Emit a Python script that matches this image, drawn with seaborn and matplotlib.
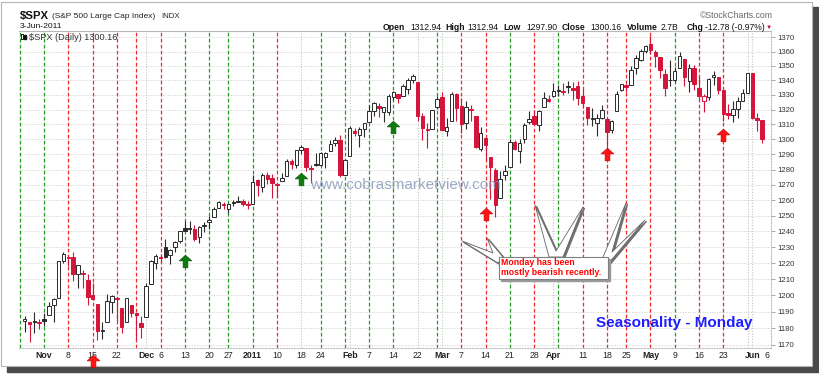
import numpy as np
import pandas as pd
import matplotlib
matplotlib.use("Agg")
import matplotlib.pyplot as plt
import seaborn as sns
from matplotlib.path import Path
from matplotlib.patches import Rectangle, Polygon
from matplotlib.transforms import Affine2D
from matplotlib.ticker import FixedLocator, NullLocator, NullFormatter

# NYSE holidays inside the window
holidays = ["2010-11-25", "2010-12-24", "2011-01-17", "2011-02-21",
            "2011-04-22", "2011-05-30"]
# Oct 25 (only its weekly line shows) .. Jun 6 (only its tick label shows)
days = pd.bdate_range("2010-10-25", "2011-06-06", freq="C", holidays=holidays)

# daily bars Oct 26 2010 .. Jun 3 2011, one row per week
opens = [
    1184.0, 1183.8, 1184.5, 1183.9,
    1185.7, 1187.9, 1193.8, 1198.3, 1221.2,
    1223.2, 1223.6, 1213.1, 1213.0, 1209.5,
    1200.4, 1194.8, 1178.3, 1183.8, 1196.1,
    1198.1, 1192.5, 1183.7, 1194.2,
    1189.1, 1182.9, 1186.6, 1206.8, 1219.9,
    1223.9, 1230.1, 1225.0, 1230.1, 1233.9,
    1242.5, 1241.8, 1241.6, 1236.3, 1243.6,
    1245.8, 1249.4, 1254.9, 1257.5,
    1254.7, 1259.1, 1258.8, 1259.4, 1256.8,
    1257.6, 1272.9, 1268.8, 1276.3, 1274.4,
    1270.8, 1272.6, 1275.7, 1285.8, 1282.9,
    1293.2, 1294.5, 1280.9, 1283.6,
    1283.3, 1288.2, 1292.0, 1297.5, 1299.6,
    1276.5, 1289.1, 1305.9, 1302.8, 1307.0,
    1311.9, 1318.8, 1322.5, 1318.1, 1318.7,
    1328.7, 1330.4, 1329.5, 1334.4, 1340.4,
    1338.9, 1315.4, 1307.1, 1307.3,
    1321.6, 1328.6, 1305.9, 1312.4, 1330.7,
    1322.7, 1311.1, 1319.9, 1315.7, 1293.4,
    1301.2, 1288.5, 1279.5, 1261.6, 1276.7,
    1281.7, 1298.3, 1292.2, 1300.6, 1311.8,
    1315.5, 1309.4, 1321.9, 1327.4, 1329.5,
    1333.6, 1332.0, 1335.9, 1334.8, 1336.2,
    1329.0, 1322.0, 1314.0, 1311.1, 1314.5,
    1313.4, 1306.0, 1319.1, 1333.2,
    1337.1, 1336.8, 1348.4, 1353.9, 1360.1,
    1365.2, 1359.8, 1355.9, 1344.2, 1340.2,
    1340.2, 1348.3, 1354.5, 1339.4, 1348.7,
    1334.8, 1326.1, 1328.5, 1342.4, 1342.0,
    1333.1, 1317.7, 1316.4, 1320.6, 1325.7,
    1331.1, 1345.2, 1314.6, 1312.94,
]
highs = [
    1187.1, 1183.8, 1189.5, 1185.5,
    1189.0, 1195.9, 1198.3, 1221.3, 1227.1,
    1224.6, 1226.8, 1218.8, 1215.5, 1213.0,
    1207.4, 1194.8, 1183.6, 1200.7, 1200.0,
    1198.9, 1192.5, 1198.6, 1194.2,
    1189.1, 1187.4, 1207.6, 1221.9, 1225.6,
    1225.8, 1235.1, 1228.9, 1233.8, 1240.4,
    1246.7, 1246.6, 1244.3, 1243.8, 1245.8,
    1250.2, 1255.8, 1259.4, 1258.6,
    1258.4, 1259.9, 1262.6, 1261.1, 1259.3,
    1276.2, 1274.1, 1277.6, 1278.2, 1276.8,
    1271.5, 1277.6, 1286.9, 1287.0, 1293.2,
    1296.1, 1294.6, 1283.3, 1291.2,
    1291.9, 1291.3, 1299.7, 1301.6, 1302.7,
    1287.2, 1308.9, 1307.6, 1308.6, 1311.0,
    1322.9, 1324.9, 1324.5, 1322.0, 1330.8,
    1333.0, 1330.4, 1337.6, 1341.5, 1344.1,
    1338.9, 1317.9, 1310.9, 1320.0,
    1329.4, 1332.1, 1314.4, 1332.3, 1331.1,
    1327.7, 1325.7, 1323.2, 1315.7, 1308.4,
    1301.2, 1288.5, 1280.9, 1278.9, 1282.9,
    1300.6, 1299.4, 1300.5, 1311.3, 1319.2,
    1319.7, 1319.5, 1331.7, 1329.8, 1337.9,
    1336.7, 1338.2, 1339.4, 1338.8, 1339.5,
    1333.8, 1322.0, 1321.4, 1316.8, 1322.9,
    1313.4, 1312.7, 1332.7, 1337.5,
    1337.6, 1349.6, 1357.5, 1361.7, 1364.6,
    1370.6, 1360.8, 1355.9, 1348.0, 1354.4,
    1349.4, 1359.4, 1354.5, 1351.1, 1350.5,
    1343.3, 1330.4, 1341.8, 1346.8, 1342.0,
    1333.1, 1323.7, 1325.9, 1328.5, 1334.0,
    1345.2, 1345.2, 1318.0, 1312.94,
]
lows = [
    1177.7, 1171.7, 1177.1, 1179.7,
    1181.0, 1187.9, 1183.6, 1198.3, 1220.3,
    1218.5, 1208.9, 1204.3, 1204.5, 1194.1,
    1197.2, 1173.0, 1173.3, 1183.8, 1189.4,
    1184.3, 1176.9, 1183.7, 1186.9,
    1173.6, 1174.1, 1186.6, 1206.8, 1216.6,
    1220.7, 1223.3, 1219.5, 1226.9, 1232.6,
    1240.3, 1238.2, 1234.0, 1232.9, 1239.9,
    1241.5, 1249.4, 1254.9, 1254.1,
    1251.5, 1256.2, 1258.8, 1256.3, 1254.2,
    1257.6, 1262.7, 1265.4, 1270.4, 1261.7,
    1262.2, 1272.6, 1275.7, 1280.5, 1280.9,
    1290.2, 1278.9, 1271.3, 1282.1,
    1282.5, 1281.1, 1292.0, 1295.5, 1275.1,
    1276.5, 1289.1, 1302.6, 1294.8, 1301.7,
    1311.9, 1316.0, 1314.9, 1311.6, 1316.1,
    1326.9, 1324.6, 1329.5, 1331.0, 1338.1,
    1312.3, 1299.6, 1294.3, 1307.3,
    1320.6, 1306.1, 1302.6, 1312.4, 1312.6,
    1304.0, 1306.9, 1312.3, 1294.2, 1292.0,
    1286.4, 1261.1, 1249.1, 1261.6, 1273.3,
    1281.7, 1292.7, 1284.4, 1297.7, 1310.2,
    1310.2, 1305.3, 1321.9, 1325.0, 1328.9,
    1329.1, 1330.0, 1331.1, 1326.6, 1322.9,
    1321.1, 1309.5, 1309.2, 1302.4, 1313.7,
    1294.7, 1304.0, 1319.1, 1332.5,
    1331.7, 1336.8, 1344.3, 1353.6, 1358.7,
    1358.6, 1349.5, 1341.5, 1329.2, 1336.4,
    1338.6, 1348.3, 1336.4, 1332.0, 1333.4,
    1327.3, 1318.5, 1326.6, 1336.9, 1330.7,
    1312.6, 1313.9, 1311.8, 1314.4, 1325.7,
    1331.1, 1313.7, 1305.6, 1297.90,
]
closes = [
    1185.64, 1182.45, 1183.78, 1183.26,
    1184.38, 1193.57, 1197.96, 1221.06, 1225.85,
    1223.25, 1213.40, 1218.71, 1213.54, 1199.21,
    1197.75, 1178.34, 1178.59, 1196.69, 1199.73,
    1197.84, 1180.73, 1198.35, 1189.40,
    1187.76, 1180.55, 1206.07, 1221.53, 1224.71,
    1223.12, 1223.75, 1228.28, 1233.00, 1240.40,
    1240.46, 1241.59, 1235.23, 1242.87, 1243.91,
    1247.08, 1254.60, 1258.84, 1256.77,
    1257.54, 1258.51, 1259.78, 1257.88, 1257.64,
    1271.87, 1270.20, 1276.56, 1273.85, 1271.50,
    1269.75, 1274.48, 1285.96, 1283.76, 1293.24,
    1295.02, 1281.92, 1280.26, 1283.35,
    1290.84, 1291.18, 1296.63, 1299.54, 1276.34,
    1286.12, 1307.59, 1304.03, 1307.10, 1310.87,
    1319.05, 1324.57, 1320.88, 1321.87, 1329.15,
    1332.32, 1328.01, 1336.32, 1340.43, 1343.01,
    1315.44, 1307.40, 1306.10, 1319.88,
    1327.22, 1306.33, 1308.44, 1330.97, 1321.15,
    1310.13, 1321.82, 1320.02, 1295.11, 1304.28,
    1296.39, 1281.87, 1256.88, 1273.72, 1279.21,
    1298.38, 1293.77, 1297.54, 1309.66, 1313.80,
    1310.19, 1319.44, 1328.26, 1325.83, 1332.41,
    1332.87, 1332.63, 1335.54, 1333.51, 1328.17,
    1324.46, 1314.16, 1314.41, 1314.52, 1319.68,
    1305.14, 1312.62, 1330.36, 1337.38,
    1335.25, 1347.24, 1355.66, 1360.48, 1363.61,
    1361.22, 1356.62, 1347.32, 1335.10, 1340.20,
    1346.29, 1357.16, 1342.08, 1348.65, 1337.77,
    1329.47, 1328.98, 1340.68, 1343.60, 1333.27,
    1317.37, 1316.28, 1320.47, 1325.69, 1331.10,
    1345.20, 1314.55, 1312.94, 1300.16,
]
assert len(opens) == len(highs) == len(lows) == len(closes) == len(days) - 2

volume_text = "2.7B"
y_ticks = list(range(1170, 1371, 10))

# block arrows (date, price at arrow centre)
green_arrows = [("2010-12-13", 1221.4), ("2011-01-18", 1273.6), ("2011-02-14", 1308.0)]
red_arrows = [("2010-11-15", 1160.0), ("2011-03-14", 1251.2),
              ("2011-04-18", 1290.3), ("2011-05-23", 1303.0)]

RED = "#d5143a"
BLACK = "#2a2a2a"
GREEN_LINE = "#239b23"
RED_LINE = "#ee2a2a"
GRAY_LINE = "#c4c4c4"

sns.set_theme(style="white")
plt.rcParams["font.family"] = ["Liberation Sans", "DejaVu Sans"]

fig = plt.figure(figsize=(8.2, 3.74), dpi=100)
# reference-pixel coordinates (origin top-left) for the page furniture
px = Affine2D().scale(1 / 820, -1 / 374).translate(0, 1) + fig.transFigure

# outer frame with drop shadow
fig.add_artist(Rectangle((7, 7), 811, 365, transform=px, color="#4a4a4a", zorder=-3))
fig.add_artist(Rectangle((1.5, 1.5), 810.5, 364.5, transform=px, facecolor="white",
                         edgecolor="#b5b5b5", lw=0.8, zorder=-2))

ax = fig.add_axes([19.4 / 820, 26 / 374, 751.6 / 820, 317 / 374])
ax.set_facecolor("white")

o = np.array(opens)
h = np.array(highs)
l = np.array(lows)
c = np.array(closes)
pos = np.arange(1, len(c) + 1)          # index into `days`
prev = np.r_[c[0], c[:-1]]
up = c >= prev
edge = np.where(up, BLACK, RED)
face = np.where(c > o, "white", edge)

ax.set_yscale("log")
ax.vlines(pos, l, h, colors=edge, lw=0.8, zorder=3)
ax.bar(pos, np.maximum(np.abs(c - o), 0.35), bottom=np.minimum(o, c), width=0.72,
       color=face, edgecolor=edge, linewidth=0.7, zorder=4)

# weekly lines: Monday up = green, Monday down = red, others gray dotted
new_week = [0] + [i for i in range(1, len(days)) if days[i].weekday() < days[i - 1].weekday()]
month_starts = [i for i in range(1, len(days)) if days[i].month != days[i - 1].month]
for i in new_week:
    if i > len(c):
        continue
    if days[i].weekday() != 0:
        ax.axvline(i, color=GRAY_LINE, lw=0.8, ls=(0, (1, 1.5)), zorder=1)
        continue
    k = i - 1
    rising = True if k < 1 else c[k] >= c[k - 1]
    ax.axvline(i, color=GREEN_LINE if rising else RED_LINE, lw=0.9,
               ls=(0, (3, 1.8)), zorder=1)
for i in month_starts:
    if i not in new_week:
        ax.axvline(i, color=GRAY_LINE, lw=0.8, ls=(0, (1, 1.5)), zorder=1)

# tick labels: month names at month starts, day numbers at week starts
ticks = []
for i in month_starts:
    ticks.append((i, "2011" if days[i].month == 1 else days[i].strftime("%b"), True))
for i in new_week[1:]:
    if not any(abs(m - i) <= 2 for m in month_starts):
        ticks.append((i, str(days[i].day), False))
ticks.sort()
ax.set_xticks([t[0] for t in ticks], [t[1] for t in ticks])
for lab, t in zip(ax.get_xticklabels(), ticks):
    if t[2]:
        lab.set_fontweight("bold")
ax.tick_params(axis="x", length=0, labelsize=6.3, pad=1.8, labelcolor="#222")
ax.set_xlim(-0.09, 154.84)

ax.set_ylim(1168.0, 1374.4)
ax.yaxis.tick_right()
ax.yaxis.set_major_locator(FixedLocator(y_ticks))
ax.yaxis.set_minor_locator(NullLocator())
ax.yaxis.set_minor_formatter(NullFormatter())
ax.set_yticklabels([str(v) for v in y_ticks])
ax.tick_params(axis="y", length=3, width=0.6, color="#999", labelsize=5.6,
               labelcolor="#333", pad=1.5, direction="out", right=True, left=False)
ax.grid(axis="y", color="#d0d0d0", lw=0.7, ls=(0, (1, 1.5)), zorder=0)

ax.spines["left"].set_visible(False)
ax.spines["top"].set_color("#b8b8b8")
ax.spines["top"].set_linewidth(0.8)
for side in ["bottom", "right"]:
    ax.spines[side].set_color("#c0c0c0")
    ax.spines[side].set_linewidth(0.8)
    ax.spines[side].set_linestyle((0, (1, 1.5)))

# arrows
arrow = Path([(-0.5, 0.05), (0, 0.5), (0.5, 0.05), (0.19, 0.05), (0.19, -0.5),
              (-0.19, -0.5), (-0.19, 0.05), (-0.5, 0.05)], closed=True)
gx = [days.get_loc(pd.Timestamp(d)) for d, _ in green_arrows]
ax.plot(gx, [p for _, p in green_arrows], ls="none", marker=arrow, markersize=9,
        color="#0c7a0c", mec="#0a5a0a", mew=0.5, zorder=6, clip_on=False)
rx = [days.get_loc(pd.Timestamp(d)) for d, _ in red_arrows]
ax.plot(rx, [p for _, p in red_arrows], ls="none", marker=arrow, markersize=9,
        color="#ff1414", mec="#d00000", mew=0.5, zorder=6, clip_on=False)

# header
fig.text(20, 15.5, "$SPX", transform=px, fontsize=8.2, fontweight="bold", va="center", color="#111")
fig.text(52, 16, "(S&P 500 Large Cap Index)", transform=px, fontsize=6, va="center", color="#222")
fig.text(161, 16, "INDX", transform=px, fontsize=5.6, va="center", color="#222")
fig.text(20, 27, days[len(c)].strftime("%-d-%b-%Y"), transform=px, fontsize=6.1, va="center", color="#111")
fig.text(700, 16, "\u00a9StockCharts.com", transform=px, fontsize=6.3, va="center", color="#6a6a6a")

chg = c[-1] - c[-2]
info = [("Open", 383, True), (f"{o[-1]:.2f}", 410, False),
        ("High", 445, True), (f"{h[-1]:.2f}", 467, False),
        ("Low", 503, True), (f"{l[-1]:.2f}", 526, False),
        ("Close", 562, True), (f"{c[-1]:.2f}", 590, False),
        ("Volume", 627, True), (volume_text, 661, False),
        ("Chg", 687, True), (f"{chg:.2f} ({chg / c[-2] * 100:.2f}%)", 705, False)]
for s, xx, b in info:
    fig.text(xx, 27, s, transform=px, fontsize=6.2, va="center", color="#111",
             fontweight="bold" if b else "normal")
fig.text(766, 27, "\u25bc", transform=px, fontsize=4.5, va="center", color="#b0103a")

# in-plot legend
fig.add_artist(Rectangle((20.8, 33.5), 2.2, 5, transform=px, facecolor="white",
                         edgecolor="#111", lw=0.7, zorder=5))
fig.add_artist(Rectangle((23.8, 34.5), 2.2, 4, transform=px, color="#111", zorder=5))
fig.text(29, 37, f"$SPX (Daily) {c[-1]:.2f}", transform=px, fontsize=6.6, va="center",
         color="#333", zorder=5)

# watermark
fig.text(405, 185, "www.cobrasmarketview.com", transform=px, fontsize=11, ha="center",
         va="center", color="#8494b4", alpha=0.8, zorder=5)

# callout
wedges = [
    [(498, 263), (462, 241), (493, 253), (487, 238), (503, 257)],
    [(549, 257), (535, 205), (556, 251), (583, 207), (563, 257)],
    [(603, 257), (626, 203), (612, 252), (645, 220), (608, 264)],
]
for w in wedges:
    fig.add_artist(Polygon([(a + 1.5, b + 1.2) for a, b in w], closed=True, transform=px,
                           color="#707070", zorder=6))
    fig.add_artist(Polygon(w, closed=True, transform=px, facecolor="white",
                           edgecolor="#666", lw=0.6, zorder=7))
fig.add_artist(Rectangle((501, 259), 109, 22, transform=px, color="#9a9a9a", zorder=8))
fig.add_artist(Rectangle((499, 257), 109, 22, transform=px, facecolor="white",
                         edgecolor="#808080", lw=0.8, zorder=9))
fig.text(501.5, 262.5, "Monday has been", transform=px, fontsize=6.3, fontweight="bold",
         va="center", color="#ff0000", zorder=10)
fig.text(501.5, 272.5, "mostly bearish recently.", transform=px, fontsize=6.3,
         fontweight="bold", va="center", color="#ff0000", zorder=10)

fig.text(596, 323, "Seasonality - Monday", transform=px, fontsize=11, fontweight="bold",
         va="center", color="#1e1eff", zorder=10)

fig.savefig("out.png", dpi=100)
